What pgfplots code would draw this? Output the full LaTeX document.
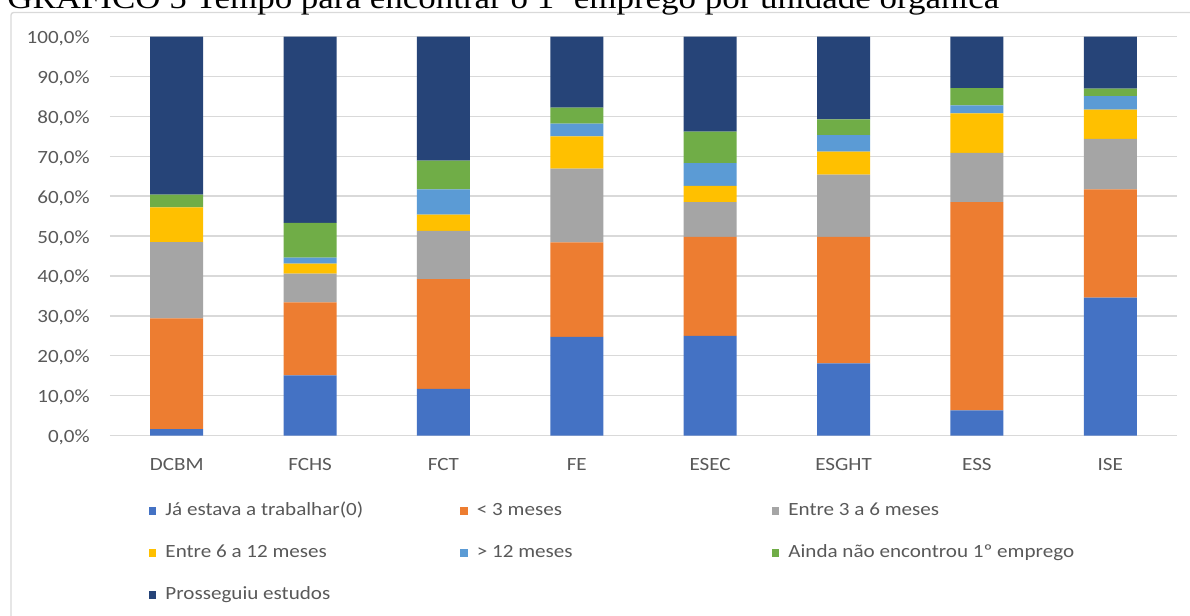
\documentclass[border=0pt]{standalone}
\usepackage{pgfplots}
\pgfplotsset{compat=1.18}
\usepackage{pgfplotstable}
\usepackage{fontspec}
\setmainfont{Carlito}[FakeStretch=1.13]
\newfontfamily\titlefont{Liberation Serif}[FakeStretch=1.13]
\definecolor{c1}{HTML}{4472C4}
\definecolor{c2}{HTML}{ED7D31}
\definecolor{c3}{HTML}{A5A5A5}
\definecolor{c4}{HTML}{FFC000}
\definecolor{c5}{HTML}{5B9BD5}
\definecolor{c6}{HTML}{70AD47}
\definecolor{c7}{HTML}{264478}
\definecolor{txt}{HTML}{595959}
\definecolor{gridc}{HTML}{D9D9D9}

\pgfplotstableread{
x a b c d e f g
0 1.6 27.8 19.1 8.7 0.0 3.2 39.6
1 15.1 18.3 7.2 2.5 1.5 8.7 46.7
2 11.7 27.5 12.1 4.1 6.3 7.2 31.1
3 24.7 23.7 18.5 8.1 3.2 4.0 17.8
4 25.0 24.8 8.7 4.1 5.7 7.9 23.8
5 18.1 31.7 15.6 5.8 4.1 4.0 20.7
6 6.3 52.2 12.4 9.9 2.0 4.3 12.9
7 34.6 27.1 12.7 7.3 3.4 1.9 13.0
}\datatable

\newcommand{\lb}[1]{\makebox[221.25pt][l]{#1}}

\begin{document}
\begin{tikzpicture}
\useasboundingbox (0,0) rectangle (892.5pt,461.25pt);
\fill[white] (0,0) rectangle (892.5pt,461.25pt);
\draw[gridc, line width=1pt, rounded corners=2pt] (8.25pt,-5pt) -- (8.25pt,451.9pt) -- (900pt,451.9pt);
\node[anchor=base west, inner sep=0pt, font=\titlefont\fontsize{23.2pt}{26pt}\selectfont] at (5.25pt,454.5pt) {GRÁFICO 5 Tempo para encontrar o 1º emprego por unidade orgânica};
\begin{axis}[
  at={(82.5pt,134.625pt)}, anchor=south west,
  scale only axis, width=800.25pt, height=299.1pt,
  ybar stacked, bar width=39.75pt,
  xmin=-0.5, xmax=7.5, ymin=0, ymax=100,
  xtick={0,...,7},
  xticklabels={DCBM,FCHS,FCT,FE,ESEC,ESGHT,ESS,ISE},
  ytick={0,10,...,100},
  scaled y ticks=false,
  /pgf/number format/assume math mode=true,
  yticklabel={\pgfmathprintnumber[fixed,fixed zerofill,precision=1,use comma]{\tick}\%},
  ymajorgrids, grid style={gridc, line width=1.1pt},
  axis line style={draw=none},
  major tick length=0pt, tick style={draw=none},
  ticklabel style={font=\fontsize{14pt}{16pt}\selectfont, text=txt},
  xticklabel style={anchor=base, inner sep=0pt, yshift=-26.6pt},
  yticklabel style={anchor=base east, inner sep=0pt, xshift=-15pt, yshift=-5.2pt},
  legend columns=3,
  legend image code/.code={\fill[#1] (0pt,-3.2pt) rectangle (5.6pt,3.2pt);},
  legend style={draw=none, fill=none, inner sep=0pt, outer sep=0pt,
    at={(0.03655,-0.1673)}, anchor=north west,
    font=\fontsize{14pt}{16pt}\selectfont, text=txt,
    nodes={inner sep=0pt, text height=10pt, text depth=3pt},
    row sep=18.5pt, column sep=0pt,
    /tikz/every odd column/.append style={column sep=6.75pt}},
  legend cell align=left,
]
\addplot[fill=c1, draw=none] table[x=x,y=a] {\datatable};
\addplot[fill=c2, draw=none] table[x=x,y=b] {\datatable};
\addplot[fill=c3, draw=none] table[x=x,y=c] {\datatable};
\addplot[fill=c4, draw=none] table[x=x,y=d] {\datatable};
\addplot[fill=c5, draw=none] table[x=x,y=e] {\datatable};
\addplot[fill=c6, draw=none] table[x=x,y=f] {\datatable};
\addplot[fill=c7, draw=none] table[x=x,y=g] {\datatable};
\legend{\lb{Já estava a trabalhar(0)},\lb{< 3 meses},\lb{Entre 3 a 6 meses},\lb{Entre 6 a 12 meses},\lb{> 12 meses},\lb{Ainda não encontrou 1º emprego},\lb{Prosseguiu estudos}}
\end{axis}
\end{tikzpicture}
\end{document}
